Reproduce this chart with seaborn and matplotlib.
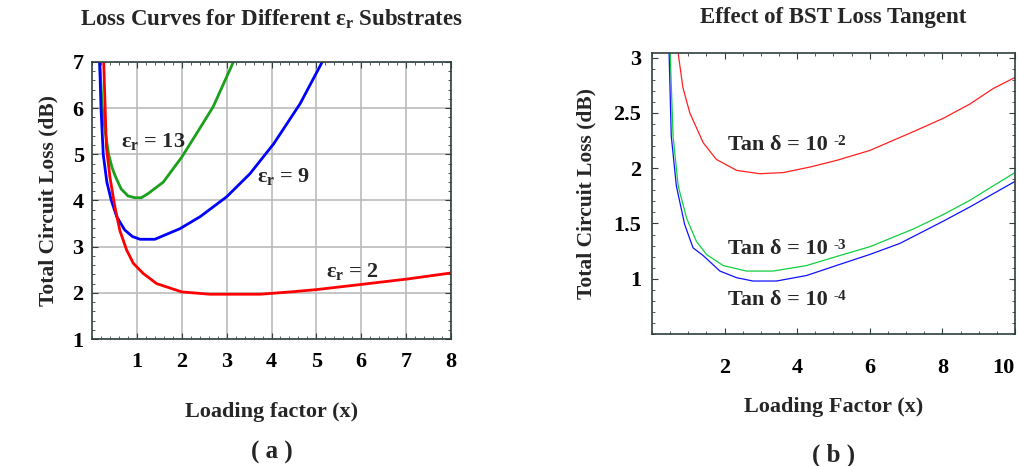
import seaborn as sns
import pandas as pd
import matplotlib.pyplot as plt
from matplotlib.ticker import MultipleLocator

# (a) loss vs loading factor for different substrates
x_er13 = [0.17, 0.23, 0.30, 0.37, 0.45, 0.53, 0.65, 0.80, 0.95, 1.10, 1.25, 1.59, 2.0, 2.33, 2.7, 3.15]
y_er13 = [7.0, 6.0, 5.45, 5.0, 4.7, 4.5, 4.25, 4.1, 4.06, 4.06, 4.15, 4.40, 4.94, 5.45, 6.03, 7.0]
x_er9 = [0.17, 0.2, 0.25, 0.33, 0.43, 0.55, 0.73, 0.9, 1.07, 1.4, 1.96, 2.41, 3.0, 3.52, 4.05, 4.64, 5.13]
y_er9 = [7.0, 6.0, 5.0, 4.4, 4.0, 3.65, 3.36, 3.22, 3.16, 3.16, 3.39, 3.65, 4.08, 4.58, 5.23, 6.10, 7.0]
x_er2 = [0.26, 0.32, 0.40, 0.51, 0.62, 0.77, 0.92, 1.14, 1.44, 2.0, 2.63, 3.0, 3.75, 4.42, 5.0, 5.98, 7.03, 8.0]
y_er2 = [7.0, 5.16, 4.5, 3.86, 3.35, 2.93, 2.64, 2.42, 2.2, 2.02, 1.97, 1.97, 1.97, 2.02, 2.07, 2.18, 2.3, 2.43]

# (b) loss vs loading factor for BST loss tangents
x_tan2 = [0.72, 0.85, 1.04, 1.41, 1.77, 2.33, 2.97, 3.61, 4.35, 5.08, 6.0, 7.2, 8.02, 8.76, 9.4, 10.0]
y_tan2 = [3.04, 2.73, 2.5, 2.23, 2.08, 1.98, 1.95, 1.96, 2.01, 2.07, 2.16, 2.33, 2.45, 2.58, 2.72, 2.82]
x_tan3 = [0.50, 0.58, 0.72, 0.95, 1.22, 1.5, 1.96, 2.6, 3.34, 4.26, 5.17, 6.0, 7.2, 8.02, 8.76, 9.4, 10.0]
y_tan3 = [3.04, 2.29, 1.84, 1.55, 1.34, 1.22, 1.12, 1.07, 1.07, 1.12, 1.21, 1.29, 1.45, 1.58, 1.71, 1.84, 1.96]
x_tan4 = [0.47, 0.53, 0.67, 0.9, 1.13, 1.41, 1.87, 2.33, 2.78, 3.43, 4.26, 5.17, 6.0, 6.83, 8.02, 8.76, 10.0]
y_tan4 = [3.04, 2.29, 1.84, 1.49, 1.28, 1.21, 1.07, 1.01, 0.98, 0.98, 1.03, 1.13, 1.22, 1.32, 1.52, 1.65, 1.88]

tan_labels = ["-2", "-3", "-4"]

df_a = pd.concat([
    pd.DataFrame({"x": x_er13, "loss": y_er13, "sub": "er13"}),
    pd.DataFrame({"x": x_er9, "loss": y_er9, "sub": "er9"}),
    pd.DataFrame({"x": x_er2, "loss": y_er2, "sub": "er2"}),
])
df_b = pd.concat([
    pd.DataFrame({"x": x_tan2, "loss": y_tan2, "tan": "t2"}),
    pd.DataFrame({"x": x_tan3, "loss": y_tan3, "tan": "t3"}),
    pd.DataFrame({"x": x_tan4, "loss": y_tan4, "tan": "t4"}),
])

sns.set_style("ticks")
plt.rcParams["font.family"] = ["Liberation Serif", "DejaVu Serif"]
plt.rcParams["font.weight"] = "bold"
plt.rcParams["axes.labelweight"] = "bold"
plt.rcParams["axes.titleweight"] = "bold"
plt.rcParams["mathtext.fontset"] = "custom"
plt.rcParams["mathtext.rm"] = "Liberation Serif:bold"
plt.rcParams["mathtext.it"] = "Liberation Serif:bold"
plt.rcParams["mathtext.bf"] = "Liberation Serif:bold"

fig = plt.figure(figsize=(10.18, 4.66), dpi=100)
ax1 = fig.add_axes([0.0904, 0.2725, 0.3526, 0.5945])
ax2 = fig.add_axes([0.6405, 0.283, 0.3565, 0.603])


def style_ticks(ax):
    ax.tick_params(which="both", direction="in", top=True, right=True,
                   labelsize=16, colors="#2f3f3f", labelcolor="black")
    ax.tick_params(which="major", length=4)
    ax.tick_params(which="minor", length=2)
    for s in ax.spines.values():
        s.set_color("#2f3f3f")
        s.set_linewidth(1.2)


# panel (a)
sns.lineplot(data=df_a, x="x", y="loss", hue="sub", estimator=None, sort=False,
             palette={"er13": "#1aa01a", "er9": "#0000ff", "er2": "#ff0000"},
             linewidth=2, legend=False, ax=ax1)
ax1.set_xlim(0, 8)
ax1.set_ylim(1, 7)
ax1.xaxis.set_minor_locator(MultipleLocator(0.2))
ax1.yaxis.set_major_locator(MultipleLocator(1))
ax1.yaxis.set_minor_locator(MultipleLocator(0.2))
ax1.set_xticks(range(1, 9))
ax1.grid(True, which="major", color="#bbbbbb", linewidth=1.2)
style_ticks(ax1)
ax1.tick_params(axis="x", pad=9)
ax1.tick_params(axis="y", pad=6)
ax1.set_xlabel("Loading factor (x)", fontsize=16, labelpad=22)
ax1.set_ylabel("Total Circuit Loss (dB)", fontsize=15.5, labelpad=10)
ax1.set_title(r"Loss Curves for Different ε$_{\mathrm{r}}$ Substrates", fontsize=16.5, pad=26)
ax1.text(1.36, 5.27, r"ε$_{\mathrm{r}}$ = 13", fontsize=16, ha="center", va="center")
ax1.text(4.27, 4.51, r"ε$_{\mathrm{r}}$ = 9", fontsize=16, ha="center", va="center")
ax1.text(5.8, 2.46, r"ε$_{\mathrm{r}}$ = 2", fontsize=16, ha="center", va="center")
ax1.text(0.5, -0.41, "( a )", transform=ax1.transAxes, fontsize=18, ha="center", va="center")

# panel (b)
sns.lineplot(data=df_b, x="x", y="loss", hue="tan", estimator=None, sort=False,
             palette={"t2": "#ff2020", "t3": "#10d040", "t4": "#1010ff"},
             linewidth=0.9, legend=False, ax=ax2)
ax2.set_xlim(0, 10)
ax2.set_ylim(0.5, 3.04)
ax2.xaxis.set_minor_locator(MultipleLocator(0.5))
ax2.yaxis.set_minor_locator(MultipleLocator(0.1))
ax2.set_xticks([2, 4, 6, 8, 10])
ax2.set_yticks([1, 1.5, 2, 2.5, 3])
ax2.set_yticklabels(["1", "1.5", "2", "2.5", "3"])
style_ticks(ax2)
ax2.tick_params(axis="x", pad=17)
ax2.tick_params(axis="y", pad=8)
for lab in ax2.get_xticklabels():
    if lab.get_text() == "10":
        lab.set_ha("right")
ax2.set_xlabel("Loading Factor (x)", fontsize=16, labelpad=14)
ax2.set_ylabel("Total Circuit Loss (dB)", fontsize=15.5, labelpad=12)
ax2.set_title("Effect of BST Loss Tangent", fontsize=16.5, pad=22)
for yy, sup in zip([2.21, 1.27, 0.81], tan_labels):
    t = ax2.text(2.1, yy, "Tan δ = 10", fontsize=16, ha="left", va="center")
    ax2.annotate(sup, xy=(1, 1), xycoords=t, xytext=(4, 0), textcoords="offset points",
                 fontsize=11, ha="left", va="top")
ax2.text(0.5, -0.43, "( b )", transform=ax2.transAxes, fontsize=18, ha="center", va="center")

plt.savefig("out.png", dpi=100)
